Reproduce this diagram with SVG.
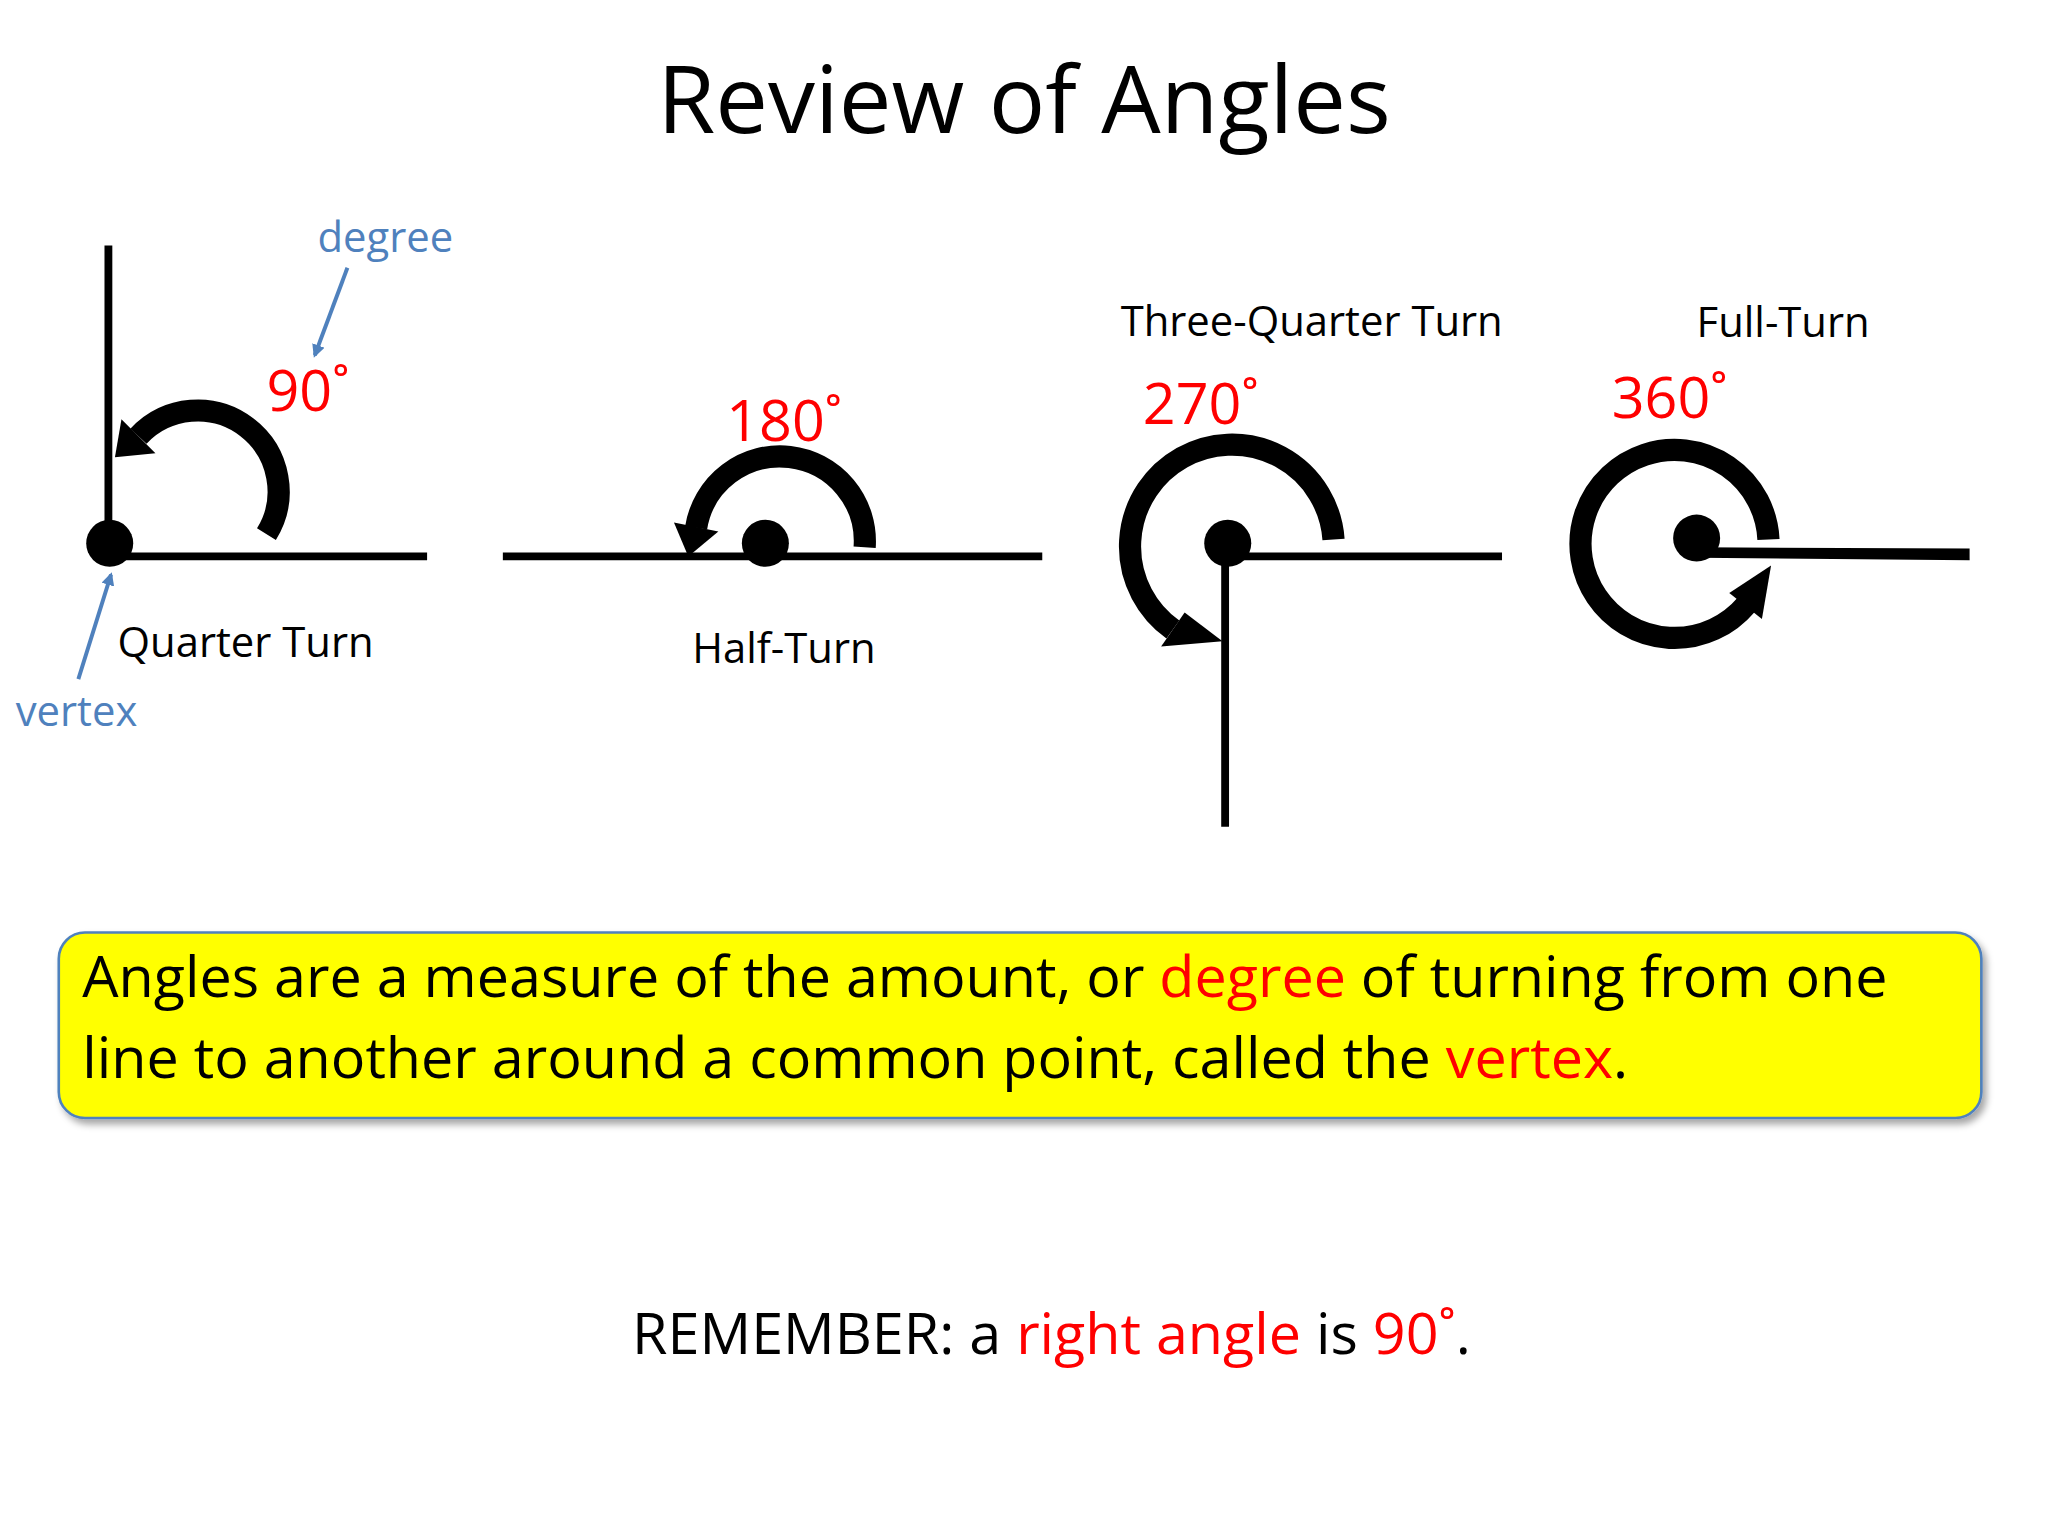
<svg xmlns="http://www.w3.org/2000/svg" width="2048" height="1536" viewBox="0 0 2048 1536">
<defs>
<style>
.t{font-family:"Open Sans","Liberation Sans",sans-serif}
.ln{stroke:#000;stroke-width:6;fill:none}
.arc{stroke:#000;stroke-width:17;fill:none}
.blue{fill:#4F81BD}
.red{fill:#FF0000}
</style>
<marker id="ba" markerWidth="10" markerHeight="10" refX="8" refY="5" orient="auto" markerUnits="userSpaceOnUse"><path d="M0,0 L10,5 L0,10 z" fill="#4F81BD"/></marker>
<filter id="sh"><feDropShadow dx="3" dy="4" stdDeviation="3" flood-opacity="0.35"/></filter>
</defs>
<rect width="2048" height="1536" fill="#fff"/>
<g transform="scale(1.3061)">
<text class="t" x="784" y="102" font-size="72" text-anchor="middle">Review of Angles</text>
<g id="quarter">
<line class="ln" x1="83" y1="188" x2="83" y2="420"/>
<line class="ln" x1="83" y1="426" x2="327" y2="426"/>
<circle cx="84" cy="416" r="18"/>
<path class="arc" d="M204,409 A62,62 0 0 0 106,334"/>
<polygon points="93,321 119,347 88,350"/>
<text class="t" x="90" y="503" font-size="32">Quarter Turn</text>
<text class="t red" x="204" y="315" font-size="44">90˚</text>
</g>
<g id="half">
<line class="ln" x1="385" y1="426" x2="798" y2="426"/>
<circle cx="586" cy="416" r="18"/>
<path class="arc" d="M662,419 A65,65 0 0 0 533,404"/>
<polygon points="516,400 550,407 527,426"/>
<text class="t" x="530" y="508" font-size="32">Half-Turn</text>
<text class="t red" x="556" y="338" font-size="44">180˚</text>
</g>
<g id="threequarter">
<line class="ln" x1="940" y1="426" x2="1150" y2="426"/>
<line class="ln" x1="938" y1="416" x2="938" y2="633"/>
<circle cx="940" cy="416" r="18"/>
<path class="arc" d="M1021,413 A78,78 0 1 0 898,482"/>
<polygon points="907,469 889,495 936,491"/>
<text class="t" x="858" y="257" font-size="32">Three-Quarter Turn</text>
<text class="t red" x="875" y="325" font-size="44">270˚</text>
</g>
<g id="full">
<polygon points="1300,419 1508,420 1508,429 1300,427"/>
<circle cx="1299" cy="412" r="18"/>
<path class="arc" d="M1354,413 A72,72 0 1 0 1337,463"/>
<polygon points="1349,474 1324,454 1356,433"/>
<text class="t" x="1299" y="258" font-size="32">Full-Turn</text>
<text class="t red" x="1234" y="320" font-size="44">360˚</text>
</g>
<g id="labels">
<text class="t blue" x="295" y="193" font-size="32" text-anchor="middle">degree</text>
<text class="t blue" x="12" y="556" font-size="32">vertex</text>
</g>
<g id="connectors" stroke="#4F81BD" stroke-width="3" fill="none">
<line x1="266" y1="205" x2="241" y2="272" marker-end="url(#ba)"/>
<line x1="60" y1="520" x2="85" y2="440" marker-end="url(#ba)"/>
</g>
<g id="box">
<rect x="45" y="714" width="1472" height="142" rx="20" fill="#FFFF00" stroke="#4F81BD" stroke-width="2" filter="url(#sh)"/>
<text class="t" x="63" y="763" font-size="44">Angles are a measure of the amount, or <tspan class="red">degree</tspan> of turning from one</text>
<text class="t" x="63" y="825" font-size="44">line to another around a common point, called the <tspan class="red">vertex</tspan>.</text>
</g>
<text class="t" x="805" y="1037" font-size="44" text-anchor="middle">REMEMBER: a <tspan class="red">right angle</tspan> is <tspan class="red">90˚</tspan>.</text>
</g>
</svg>
